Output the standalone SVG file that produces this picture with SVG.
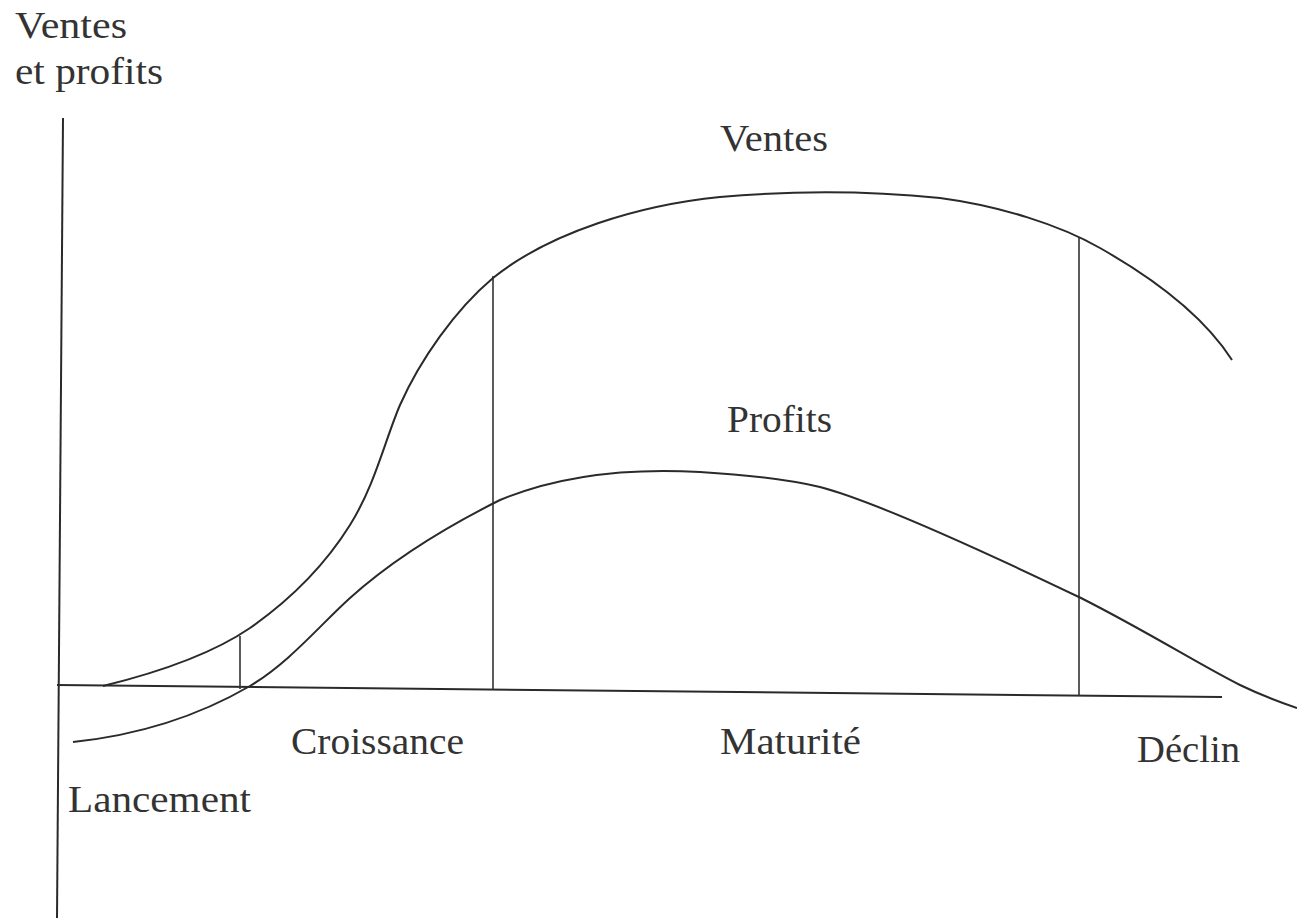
<svg xmlns="http://www.w3.org/2000/svg" width="1297" height="918" viewBox="0 0 1297 918">
<style>
.ln{fill:none;stroke:#2a2a2a;stroke-width:2}
.vl{fill:none;stroke:#333;stroke-width:1.6}
.tx{font-family:'Liberation Serif','Times New Roman','DejaVu Serif',serif;font-size:37px;fill:#333}
</style>
<rect width="1297" height="918" fill="#fff"/>
<g id="axes">
<line class="ln" x1="63" y1="118" x2="57" y2="918"/>
<line class="ln" x1="57" y1="685" x2="1222" y2="697"/>
</g>
<g id="connectors">
<line class="vl" x1="240" y1="636" x2="240" y2="689"/>
<line class="vl" x1="493" y1="276" x2="493" y2="690"/>
<line class="vl" x1="1079" y1="237" x2="1079" y2="696"/>
</g>
<g id="ventes-curve">
<path class="ln" d="M103,686 C160,672 215,652 250,628 C290,600 325,565 350,525 C375,485 385,440 400,405 C420,360 455,310 493,278 C550,232 640,205 720,197 C800,190 880,192 940,198 C1000,206 1060,225 1100,248 C1160,282 1205,318 1232,360"/>
</g>
<g id="profits-curve">
<path class="ln" d="M73,742 C140,735 200,715 250,686 C290,662 320,625 350,598 C390,562 440,530 500,500 C560,475 630,468 700,472 C750,475 790,480 820,487 C870,500 960,540 1081,598 C1150,633 1200,665 1240,685 C1265,697 1285,704 1297,708"/>
</g>
<g id="labels">
<text class="tx" x="15" y="38" textLength="112" lengthAdjust="spacingAndGlyphs">Ventes</text>
<text class="tx" x="15" y="84" textLength="148" lengthAdjust="spacingAndGlyphs">et profits</text>
<text class="tx" x="720" y="151" textLength="108" lengthAdjust="spacingAndGlyphs">Ventes</text>
<text class="tx" x="727" y="432" textLength="105" lengthAdjust="spacingAndGlyphs">Profits</text>
<text class="tx" x="291" y="754" textLength="173" lengthAdjust="spacingAndGlyphs">Croissance</text>
<text class="tx" x="720" y="754" textLength="141" lengthAdjust="spacingAndGlyphs">Maturité</text>
<text class="tx" x="1137" y="762" textLength="103" lengthAdjust="spacingAndGlyphs">Déclin</text>
<text class="tx" x="68" y="812" textLength="183" lengthAdjust="spacingAndGlyphs">Lancement</text>
</g>
</svg>
